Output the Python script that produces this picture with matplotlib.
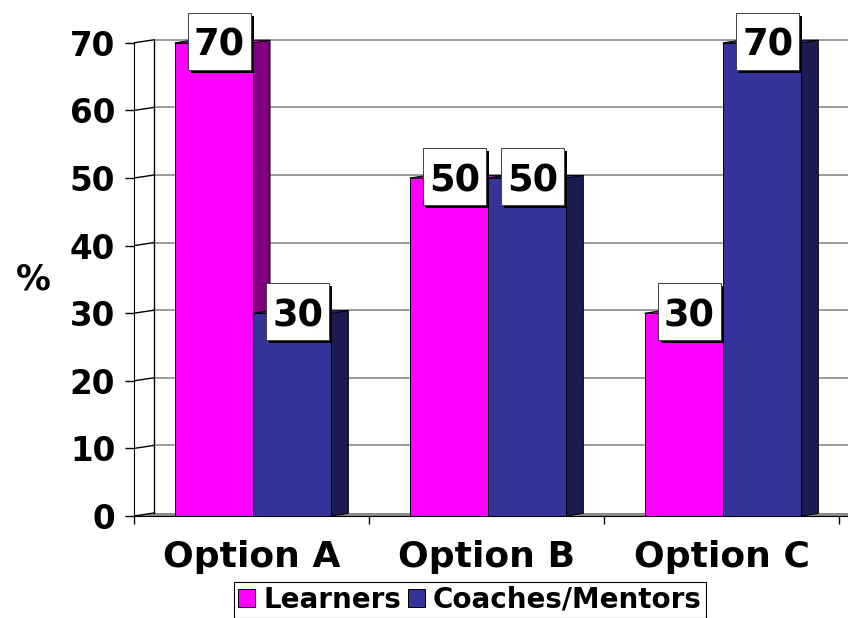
import matplotlib
matplotlib.use('Agg')
import matplotlib.pyplot as plt
import matplotlib.transforms as mtransforms
from matplotlib.patches import Rectangle, Polygon, Patch

# data
categories = ['Option A', 'Option B', 'Option C']
series_names = ['Learners', 'Coaches/Mentors']
learners = [70, 50, 30]
coaches = [30, 50, 70]
yticks = [0, 10, 20, 30, 40, 50, 60, 70]

face_colors = ['#FF00FF', '#333399']
side_colors = ['#800080', '#1C1C52']

plt.rcParams['font.family'] = ['DejaVu Sans']
plt.rcParams['font.weight'] = 'bold'
plt.rcParams['axes.labelweight'] = 'bold'

W, H = 848, 618
fig = plt.figure(figsize=(W / 100, H / 100), dpi=100)

# plot area in pixels: front value axis at x=134, zero line at y=516
left_px, right_px, bottom_px, top_px = 134, 848, 516, 10
ax = fig.add_axes([left_px / W, 1 - bottom_px / H,
                   (right_px - left_px) / W, (bottom_px - top_px) / H])

px_x = 235.0   # pixels per category
px_y = 6.76    # pixels per percent
ax.set_xlim(-0.5, -0.5 + (right_px - left_px) / px_x)
ax.set_ylim(0, (bottom_px - top_px) / px_y)
x0, xmax = ax.get_xlim()

# depth of the 3d box and of the columns, in data units
wall_dx, wall_dy = 20 / px_x, 3 / px_y
bar_dx, bar_dy = 17 / px_x, 2.55 / px_y
shift = (wall_dx - bar_dx) / 2
bar_w = 1 / 3

# floor, back wall gridlines and side wall
ax.add_patch(Polygon([(x0, 0), (xmax, 0), (xmax, wall_dy), (x0 + wall_dx, wall_dy)],
                     closed=True, facecolor='#8c8c8c', edgecolor='none', zorder=1))
for t in yticks[1:]:
    ax.plot([x0 + wall_dx, xmax], [t + wall_dy] * 2, color='#808080', lw=1.1, zorder=1)
for t in yticks:
    ax.plot([x0, x0 + wall_dx], [t, t + wall_dy], color='black', lw=1, zorder=1)
ax.plot([x0 + wall_dx] * 2, [wall_dy, yticks[-1] + wall_dy], color='black', lw=1, zorder=1)

# columns: front face, side face and top
for i, (vals, fc, sc) in enumerate(zip([learners, coaches], face_colors, side_colors)):
    lefts = [c - bar_w + i * bar_w + shift for c in range(len(categories))]
    for xl, v in zip(lefts, vals):
        xr = xl + bar_w
        ax.add_patch(Polygon([(xr, 0), (xr + bar_dx, bar_dy), (xr + bar_dx, v + bar_dy), (xr, v)],
                             facecolor=sc, edgecolor='black', lw=0.7, zorder=2))
        ax.add_patch(Polygon([(xl, v), (xr, v), (xr + bar_dx, v + bar_dy), (xl + bar_dx, v + bar_dy)],
                             facecolor=fc, edgecolor='black', lw=0.7, zorder=2))
    ax.bar(lefts, vals, width=bar_w, align='edge', color=fc, edgecolor='black', lw=0.7, zorder=3)

# value labels in white boxes with a black drop shadow
bw, bh = 0.63, 0.57       # box size, inches
bx, by = 0.055, 0.015     # box centre relative to the top of the column
sh = 0.03
for i, vals in enumerate([learners, coaches]):
    for c, v in enumerate(vals):
        xc = c - bar_w / 2 + i * bar_w + shift
        trans = fig.dpi_scale_trans + mtransforms.ScaledTranslation(xc, v, ax.transData)
        ax.add_patch(Rectangle((bx - bw / 2 + sh, by - bh / 2 - sh), bw, bh, transform=trans,
                               facecolor='black', edgecolor='none', zorder=5, clip_on=False))
        ax.add_patch(Rectangle((bx - bw / 2, by - bh / 2), bw, bh, transform=trans,
                               facecolor='white', edgecolor='#404040', lw=0.7, zorder=6, clip_on=False))
        ax.text(bx, by, str(v), transform=trans, ha='center', va='center_baseline',
                fontsize=26.5, fontweight='bold', zorder=7)

# axes
ax.set_yticks(yticks)
ax.tick_params(axis='y', length=6.5, width=1, pad=7, labelsize=23.5)
ax.set_xticks(range(len(categories)), categories)
ax.set_xticks([-0.5, 0.5, 1.5, 2.5], minor=True)
ax.tick_params(axis='x', which='major', length=0, pad=17, labelsize=26)
ax.tick_params(axis='x', which='minor', length=5.8, width=1, direction='out')
for s in ['top', 'right']:
    ax.spines[s].set_visible(False)
ax.spines['left'].set_bounds(0, 70)
ax.spines['bottom'].set_bounds(x0, xmax)
ax.patch.set_visible(False)

ax.set_ylabel('%', rotation=0, fontsize=25, ha='center', va='center')
ax.yaxis.set_label_coords((33 - left_px) / (right_px - left_px),
                          (bottom_px - 280) / (bottom_px - top_px))

handles = [Patch(facecolor=fc, edgecolor='black', lw=0.7) for fc in face_colors]
leg = fig.legend(handles, series_names, loc='lower center', bbox_to_anchor=(470 / W, 0),
                 ncol=2, fontsize=20, frameon=True, fancybox=False, framealpha=1,
                 edgecolor='black', handlelength=0.6, handleheight=0.6,
                 handletextpad=0.3, columnspacing=0.25, borderpad=0.15, borderaxespad=0)
leg.get_frame().set_linewidth(0.8)

fig.savefig('out.png', dpi=100)
